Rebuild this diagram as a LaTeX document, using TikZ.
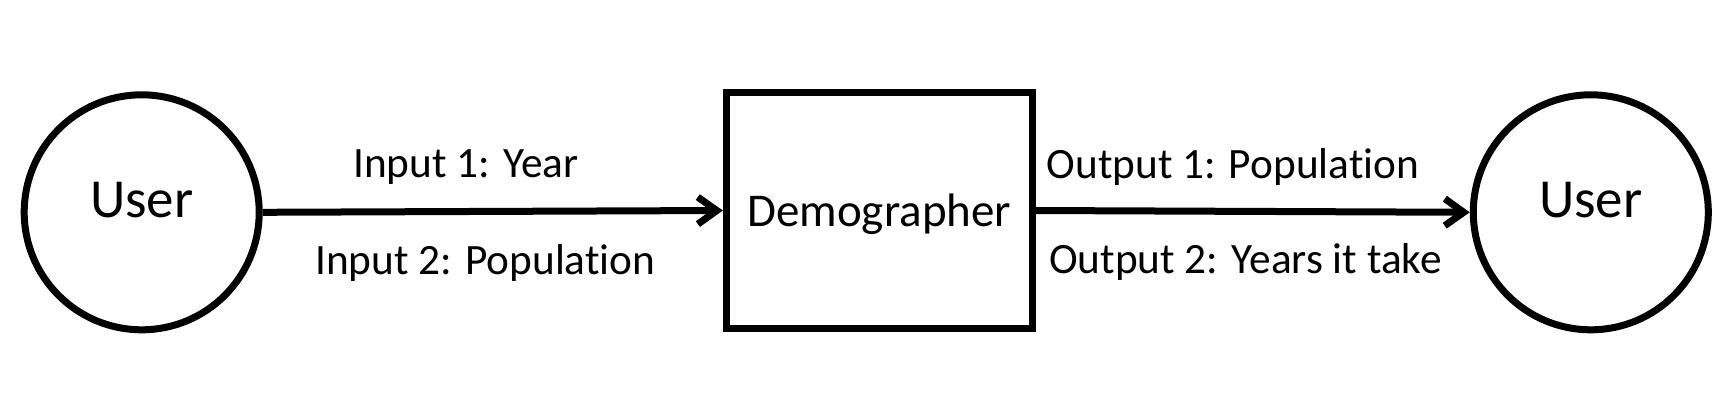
\documentclass[tikz,border=0pt]{standalone}
\usepackage{fontspec}
\setmainfont{Carlito}[Ligatures=NoCommon]
\usetikzlibrary{arrows.meta}
\tikzset{
  usernode/.style={circle,draw,line width=7pt,minimum size=235pt,inner sep=0pt,
    text height=35pt,text depth=25pt,font=\fontsize{55}{60}\selectfont},
  procnode/.style={rectangle,draw,line width=7pt,minimum width=305.7pt,minimum height=236.4pt,inner sep=0pt,
    text height=40pt,text depth=7.6pt,font=\fontsize{47}{52}\selectfont},
  flow/.style={line width=7pt,-{Straight Barb[length=19pt,width=27pt]}},
  lbl/.style={anchor=base west,inner sep=0pt,font=\fontsize{43.3}{50}\selectfont}
}
\begin{document}
\begin{tikzpicture}[x=1pt,y=-1pt]
\useasboundingbox (0,0) rectangle (1722,416);
\node[usernode] (u1) at (141.7,212.3) {User};
\node[procnode] (dem) at (879.2,210.5) {Demographer};
\node[usernode] (u2) at (1590.8,212.3) {User};
\draw[flow] (u1.east) -- (dem.west);
\draw[flow] (dem.east) -- (u2.west);
\node[lbl] (in1) at (353,177.3) {Input 1: Year};
\node[lbl] (in2) at (315,274) {Input 2: Population};
\node[lbl] (out1) at (1046.5,178) {Output 1: Population};
\node[lbl] (out2) at (1049,273.5) {Output 2: Years it take};
\end{tikzpicture}
\end{document}
